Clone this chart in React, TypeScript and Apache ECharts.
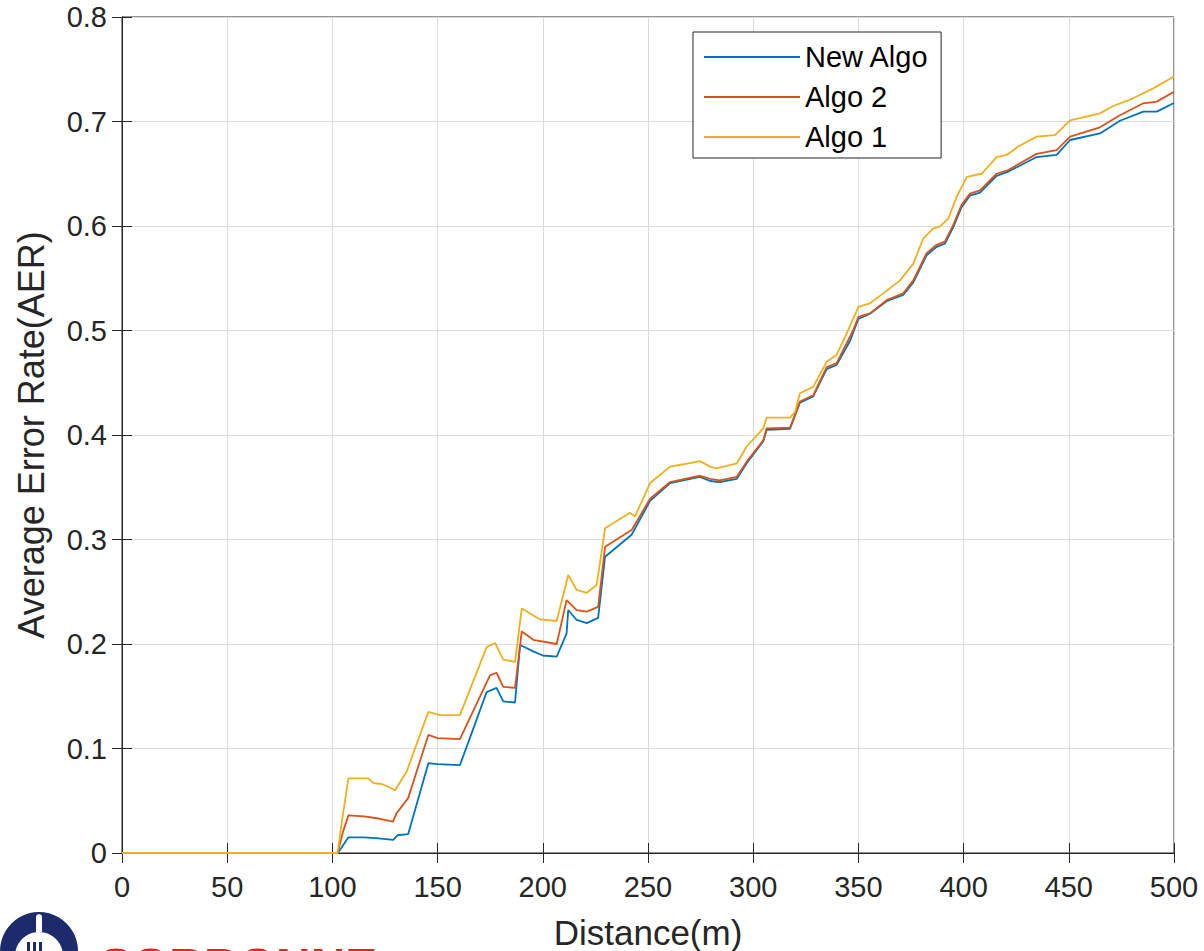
import React, { useEffect, useRef } from "react";
import * as echarts from "echarts";

const seriesNames = ["New Algo", "Algo 2", "Algo 1"];
const seriesColors = ["#0072BD", "#D95319", "#EDB120"];

const xTicks = [0, 50, 100, 150, 200, 250, 300, 350, 400, 450, 500];
const yTicks = [0, 0.1, 0.2, 0.3, 0.4, 0.5, 0.6, 0.7, 0.8];

const newAlgoX = [0, 102.5, 104, 107.6, 115, 122, 128.9, 131, 136, 145.6, 150, 160.6, 173.3, 178, 181.2, 186.8, 189.2, 195.5, 200, 206.6, 211.3, 212.1, 216.1, 220.9, 226.3, 229.6, 242.2, 251, 260.5, 274.7, 279.5, 284.2, 292.2, 296.9, 304.8, 306.4, 317.5, 322.2, 328.5, 334.9, 339.6, 346, 350, 355.5, 363.4, 371.3, 376.1, 382.4, 387.2, 391.1, 395.1, 399, 403, 407.8, 415.7, 421.2, 426, 434.7, 444.2, 450.6, 464.8, 474.3, 485.4, 491.8, 500];
const newAlgoY = [0, 0, 0.004, 0.015, 0.015, 0.014, 0.0125, 0.017, 0.018, 0.086, 0.085, 0.084, 0.154, 0.158, 0.145, 0.144, 0.199, 0.193, 0.189, 0.188, 0.21, 0.2325, 0.223, 0.22, 0.225, 0.2835, 0.3045, 0.337, 0.354, 0.36, 0.356, 0.355, 0.358, 0.373, 0.394, 0.405, 0.406, 0.431, 0.437, 0.463, 0.467, 0.49, 0.511, 0.516, 0.528, 0.534, 0.546, 0.572, 0.58, 0.583, 0.599, 0.618, 0.629, 0.632, 0.648, 0.652, 0.657, 0.666, 0.668, 0.6823, 0.6886, 0.7007, 0.7094, 0.7094, 0.7177];

const algo2X = [0, 102.5, 105, 107.6, 115, 122, 128.8, 130.5, 136, 145.6, 150, 160.6, 174.9, 178, 181.2, 186.8, 190, 195.5, 206.6, 211.3, 216.1, 220.9, 226.3, 229.6, 242.2, 251, 260.5, 274.7, 279.5, 284.2, 292.2, 296.9, 304.8, 306.4, 317.5, 322.2, 328.5, 334.9, 339.6, 347.6, 350, 355.5, 363.4, 371.3, 376.1, 382.4, 387.2, 391.1, 395.1, 399, 403, 407.8, 415.7, 421.2, 434.7, 444.2, 450.6, 464.8, 474.3, 485.4, 491.8, 500];
const algo2Y = [0, 0, 0.02, 0.036, 0.035, 0.033, 0.03, 0.038, 0.0525, 0.113, 0.11, 0.109, 0.17, 0.1725, 0.159, 0.158, 0.212, 0.204, 0.2, 0.242, 0.2325, 0.231, 0.2355, 0.293, 0.309, 0.339, 0.355, 0.361, 0.358, 0.3565, 0.36, 0.3745, 0.395, 0.4064, 0.407, 0.432, 0.438, 0.465, 0.4686, 0.5005, 0.513, 0.5164, 0.529, 0.5355, 0.548, 0.574, 0.582, 0.585, 0.601, 0.62, 0.631, 0.634, 0.65, 0.6536, 0.669, 0.6727, 0.6855, 0.6944, 0.706, 0.7174, 0.719, 0.7285];

const algo1X = [0, 102.5, 104.5, 107.6, 117.1, 119.3, 123.6, 129.8, 135.3, 145.6, 151.2, 160.6, 173.3, 177.3, 181.2, 186.8, 190, 198.7, 206.6, 212.1, 216.1, 220.9, 225.6, 229.6, 241.4, 243.8, 251, 260.5, 266.8, 274.7, 279.5, 282.6, 292.2, 296.9, 304.8, 306.4, 317.5, 319.9, 322.2, 328.5, 334.9, 339.6, 343.7, 350, 355.5, 361.8, 369.8, 376.1, 380.8, 385.6, 388.7, 392.7, 396.7, 401.5, 408.6, 415.7, 420.5, 426, 434.7, 443.4, 450.6, 464.8, 471.1, 480.6, 490.1, 500];
const algo1Y = [0, 0, 0.03, 0.0714, 0.0714, 0.067, 0.066, 0.06, 0.078, 0.135, 0.132, 0.132, 0.197, 0.201, 0.185, 0.183, 0.234, 0.2235, 0.222, 0.266, 0.2517, 0.249, 0.2565, 0.3107, 0.3256, 0.322, 0.354, 0.3697, 0.372, 0.375, 0.3697, 0.368, 0.3728, 0.389, 0.4064, 0.4167, 0.4167, 0.4222, 0.44, 0.446, 0.47, 0.4766, 0.494, 0.5227, 0.526, 0.5355, 0.548, 0.564, 0.588, 0.5977, 0.5994, 0.607, 0.628, 0.647, 0.65, 0.666, 0.668, 0.676, 0.6855, 0.687, 0.701, 0.7078, 0.7148, 0.7222, 0.7317, 0.743];

const xs = [newAlgoX, algo2X, algo1X];
const ys = [newAlgoY, algo2Y, algo1Y];

const FONT = "'Liberation Sans', Arial, Helvetica, sans-serif";
const INK = "#262626";
const NAVY = "#1d2a6b";

export default function App() {
  const ref = useRef<HTMLDivElement>(null);
  useEffect(() => {
    if (!ref.current) return;
    const chart = echarts.init(ref.current, undefined, { renderer: "svg" });
    const xMin = xTicks[0];
    const xMax = xTicks[xTicks.length - 1];
    const xInt = xTicks[1] - xTicks[0];
    const yMin = yTicks[0];
    const yMax = yTicks[yTicks.length - 1];
    const yInt = 0.1;
    const tick = { show: true, inside: true, length: 10, lineStyle: { color: INK, width: 1 } };
    const axisLine = { show: true, lineStyle: { color: INK, width: 1 } };
    chart.setOption({
      animation: false,
      backgroundColor: "#ffffff",
      grid: {
        left: 122,
        right: 30,
        top: 17,
        bottom: 98,
        outerBoundsMode: "none",
        containLabel: false,
        show: true,
        borderColor: INK,
        borderWidth: 1,
        backgroundColor: "transparent",
      },
      legend: {
        orient: "vertical",
        left: 693,
        top: 32,
        data: seriesNames,
        icon: "rect",
        itemWidth: 96,
        itemHeight: 2,
        itemGap: 10,
        padding: [10, 12, 6, 11],
        backgroundColor: "#ffffff",
        borderColor: INK,
        borderWidth: 1,
        textStyle: { fontFamily: FONT, fontSize: 29, color: "#000000", lineHeight: 30 },
      },
      xAxis: [
        {
          type: "value",
          min: xMin,
          max: xMax,
          interval: xInt,
          position: "bottom",
          name: "Distance(m)",
          nameLocation: "middle",
          nameGap: 61,
          nameTextStyle: { fontFamily: FONT, fontSize: 35, color: INK, lineHeight: 36 },
          axisLine,
          axisTick: tick,
          axisLabel: { fontFamily: FONT, fontSize: 29, color: INK, margin: 19 },
          splitLine: { show: true, lineStyle: { color: "#dcdcdc", width: 1 } },
        },
        {
          type: "value",
          min: xMin,
          max: xMax,
          interval: xInt,
          position: "top",
          axisLine,
          axisTick: tick,
          axisLabel: { show: false },
          splitLine: { show: false },
        },
      ],
      yAxis: [
        {
          type: "value",
          min: yMin,
          max: yMax,
          interval: yInt,
          position: "left",
          name: "Average Error Rate(AER)",
          nameLocation: "middle",
          nameGap: 73,
          nameTextStyle: { fontFamily: FONT, fontSize: 36, color: INK },
          axisLine,
          axisTick: tick,
          axisLabel: {
            fontFamily: FONT,
            fontSize: 29,
            color: INK,
            margin: 15,
            formatter: (v: number) => (Math.abs(v) < 1e-9 ? "0" : v.toFixed(1)),
          },
          splitLine: { show: true, lineStyle: { color: "#dcdcdc", width: 1 } },
        },
        {
          type: "value",
          min: yMin,
          max: yMax,
          interval: yInt,
          position: "right",
          axisLine,
          axisTick: tick,
          axisLabel: { show: false },
          splitLine: { show: false },
        },
      ],
      series: seriesNames.map((name, k) => ({
        name,
        type: "line",
        xAxisIndex: 0,
        yAxisIndex: 0,
        symbol: "none",
        smooth: false,
        color: seriesColors[k],
        lineStyle: { color: seriesColors[k], width: 1.8 },
        data: xs[k].map((x, i) => [x, ys[k][i]]),
      })),
      graphic: [
        { type: "circle", z: 100, shape: { cx: 39, cy: 951, r: 39 }, style: { fill: NAVY } },
        { type: "circle", z: 101, shape: { cx: 39, cy: 956, r: 24 }, style: { fill: "#ffffff" } },
        { type: "rect", z: 101, shape: { x: 36, y: 918, width: 6, height: 14 }, style: { fill: "#ffffff" } },
        { type: "circle", z: 101, shape: { cx: 39, cy: 917, r: 3 }, style: { fill: "#ffffff" } },
        { type: "rect", z: 102, shape: { x: 27, y: 942, width: 3, height: 9 }, style: { fill: NAVY } },
        { type: "rect", z: 102, shape: { x: 33, y: 942, width: 3, height: 9 }, style: { fill: NAVY } },
        { type: "rect", z: 102, shape: { x: 39, y: 942, width: 3, height: 9 }, style: { fill: NAVY } },
        {
          type: "text",
          z: 102,
          x: 100,
          y: 941,
          style: { text: "SORBONNE", fill: "#e3261b", font: `bold 48px ${FONT}`, textVerticalAlign: "top" },
        },
      ],
    });
    return () => chart.dispose();
  }, []);
  return <div ref={ref} style={{ position: "absolute", left: 0, top: 0, width: 1204, height: 951 }} />;
}
